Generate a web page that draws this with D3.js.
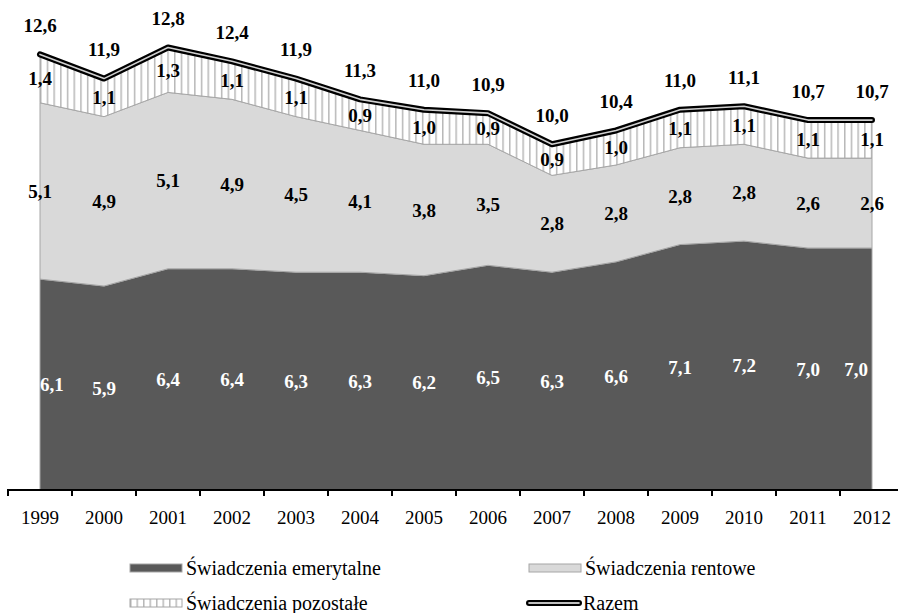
<!DOCTYPE html>
<html>
<head>
<meta charset="utf-8">
<script src="https://cdn.jsdelivr.net/npm/d3@7"></script>
<style>
  html, body { margin: 0; padding: 0; background: #fff; }
  svg { display: block; }
</style>
</head>
<body>
<svg id="chart" width="898" height="613"></svg>
<script>
// Wydatki na świadczenia (% PKB), 1999–2012
const years = ["1999","2000","2001","2002","2003","2004","2005","2006","2007","2008","2009","2010","2011","2012"];
const emerytalne = [6.1, 5.9, 6.4, 6.4, 6.3, 6.3, 6.2, 6.5, 6.3, 6.6, 7.1, 7.2, 7.0, 7.0];
const rentowe    = [5.1, 4.9, 5.1, 4.9, 4.5, 4.1, 3.8, 3.5, 2.8, 2.8, 2.8, 2.8, 2.6, 2.6];
const pozostale  = [1.4, 1.1, 1.3, 1.1, 1.1, 0.9, 1.0, 0.9, 0.9, 1.0, 1.1, 1.1, 1.1, 1.1];
const razem      = [12.6, 11.9, 12.8, 12.4, 11.9, 11.3, 11.0, 10.9, 10.0, 10.4, 11.0, 11.1, 10.7, 10.7];
const seriesNames = ["Świadczenia emerytalne", "Świadczenia rentowe", "Świadczenia pozostałe", "Razem"];
const yMax = 14;

const FONT = "'Liberation Serif', 'DejaVu Serif', serif";
const fmt = v => d3.format(".1f")(v).replace(".", ",");

const svg = d3.select("#chart").attr("font-family", FONT);

// stripe fill for "pozostałe"
const defs = svg.append("defs");
const pat = defs.append("pattern")
  .attr("id", "stripes")
  .attr("patternUnits", "userSpaceOnUse")
  .attr("x", 40).attr("y", 0)
  .attr("width", 6.7).attr("height", 10);
pat.append("rect").attr("width", 6.7).attr("height", 10).attr("fill", "#fff");
pat.append("rect").attr("x", 0).attr("y", 0).attr("width", 1.5).attr("height", 10).attr("fill", "#b8b8b8");

const legendPat = defs.append("pattern")
  .attr("id", "stripesLegend")
  .attr("patternUnits", "userSpaceOnUse")
  .attr("x", 130).attr("y", 0)
  .attr("width", 6.5).attr("height", 10);
legendPat.append("rect").attr("width", 6.5).attr("height", 10).attr("fill", "#fff");
legendPat.append("rect").attr("x", 0).attr("width", 1.5).attr("height", 10).attr("fill", "#b8b8b8");

const x = d3.scaleBand().domain(years).range([8, 904]).paddingInner(0).paddingOuter(0);
const cx = yr => x(yr) + x.bandwidth() / 2;
const y = d3.scaleLinear().domain([0, yMax]).range([490, 6]);

const rows = years.map((yr, i) => ({ year: yr, e: emerytalne[i], r: rentowe[i], p: pozostale[i], t: razem[i] }));
const stack = d3.stack().keys(["e", "r", "p"]);
const layers = stack(rows);

const fills = { e: "#595959", r: "#d9d9d9", p: "url(#stripes)" };
const area = d3.area()
  .x(d => cx(d.data.year))
  .y0(d => y(d[0]))
  .y1(d => y(d[1]));

svg.append("g").selectAll("path")
  .data(layers)
  .join("path")
  .attr("d", area)
  .attr("fill", d => fills[d.key])
  .attr("stroke", "#a6a6a6")
  .attr("stroke-width", 1);

// total line: thick black with a light core
const line = d3.line().x(d => cx(d.year)).y(d => y(d.t));
svg.append("path").datum(rows)
  .attr("d", line).attr("fill", "none")
  .attr("stroke", "#000").attr("stroke-width", 6)
  .attr("stroke-linejoin", "round").attr("stroke-linecap", "round");
svg.append("path").datum(rows)
  .attr("d", line).attr("fill", "none")
  .attr("stroke", "#d0d0d0").attr("stroke-width", 1.6)
  .attr("stroke-linejoin", "round").attr("stroke-linecap", "round");

// x axis
const axisY = 490;
const axis = svg.append("g");
axis.append("line")
  .attr("x1", 7).attr("x2", 898).attr("y1", axisY).attr("y2", axisY)
  .attr("stroke", "#000").attr("stroke-width", 2);
axis.selectAll("line.tick")
  .data(years.concat(["end"]))
  .join("line").attr("class", "tick")
  .attr("x1", d => d === "end" ? x.range()[1] : x(d))
  .attr("x2", d => d === "end" ? x.range()[1] : x(d))
  .attr("y1", axisY).attr("y2", axisY + 6)
  .attr("stroke", "#000").attr("stroke-width", 2);
axis.selectAll("text")
  .data(years)
  .join("text")
  .attr("x", d => cx(d))
  .attr("y", 524)
  .attr("text-anchor", "middle")
  .attr("font-size", 19)
  .attr("fill", "#000")
  .text(d => d);

// data labels
const lbl = svg.append("g").attr("font-weight", "bold").attr("font-size", 19);
const first = years[0], last = years[years.length - 1];
const layerE = layers[0], layerR = layers[1], layerP = layers[2];

lbl.selectAll("text.e").data(layerE).join("text").attr("class", "e")
  .attr("x", d => d.data.year === first ? cx(first) : d.data.year === last ? cx(last) - 4 : cx(d.data.year))
  .attr("text-anchor", d => d.data.year === first ? "start" : d.data.year === last ? "end" : "middle")
  .attr("y", d => y((d[0] + d[1]) / 2))
  .attr("dy", "0.35em")
  .attr("fill", "#fff")
  .text(d => fmt(d.data.e));

lbl.selectAll("text.r").data(layerR).join("text").attr("class", "r")
  .attr("x", d => cx(d.data.year))
  .attr("text-anchor", "middle")
  .attr("y", d => y((d[0] + d[1]) / 2))
  .attr("dy", "0.35em")
  .attr("fill", "#000")
  .text(d => fmt(d.data.r));

lbl.selectAll("text.p").data(layerP).join("text").attr("class", "p")
  .attr("x", d => cx(d.data.year))
  .attr("text-anchor", "middle")
  .attr("y", d => y((d[0] + d[1]) / 2))
  .attr("dy", "0.35em")
  .attr("fill", "#000")
  .text(d => fmt(d.data.p));

lbl.selectAll("text.t").data(rows).join("text").attr("class", "t")
  .attr("x", d => cx(d.year))
  .attr("text-anchor", "middle")
  .attr("y", d => y(d.t) - 29)
  .attr("dy", "0.35em")
  .attr("fill", "#000")
  .text(d => fmt(d.t));

// legend
const leg = svg.append("g").attr("font-size", 20);
const legItems = [
  { name: seriesNames[0], kind: "rect", fill: "#595959", x: 130, y: 568 },
  { name: seriesNames[1], kind: "rect", fill: "#d9d9d9", x: 529, y: 568 },
  { name: seriesNames[2], kind: "rect", fill: "url(#stripesLegend)", x: 130, y: 603 },
  { name: seriesNames[3], kind: "line", x: 529, y: 603 }
];
legItems.forEach(it => {
  if (it.kind === "rect") {
    leg.append("rect")
      .attr("x", it.x).attr("y", it.y - 4)
      .attr("width", 52).attr("height", 8)
      .attr("fill", it.fill).attr("stroke", "#a6a6a6").attr("stroke-width", 1);
    leg.append("text").attr("x", it.x + 56).attr("y", it.y).attr("dy", "0.35em").text(it.name);
  } else {
    leg.append("line").attr("x1", it.x).attr("x2", it.x + 50)
      .attr("y1", it.y).attr("y2", it.y)
      .attr("stroke", "#000").attr("stroke-width", 6).attr("stroke-linecap", "round");
    leg.append("line").attr("x1", it.x).attr("x2", it.x + 50)
      .attr("y1", it.y).attr("y2", it.y)
      .attr("stroke", "#fff").attr("stroke-width", 1.6).attr("stroke-linecap", "round");
    leg.append("text").attr("x", it.x + 54).attr("y", it.y).attr("dy", "0.35em").text(it.name);
  }
});
</script>
</body>
</html>
